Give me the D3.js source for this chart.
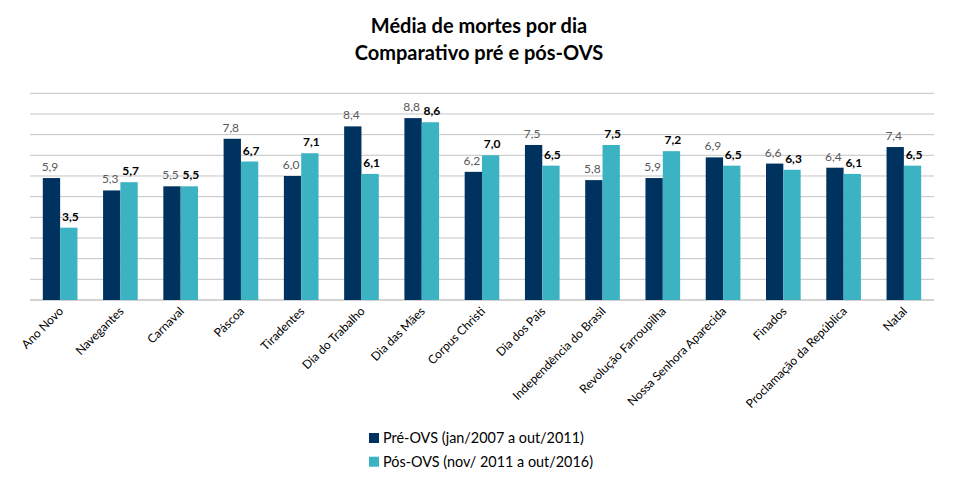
<!DOCTYPE html>
<html><head><meta charset="utf-8">
<script src="https://cdn.jsdelivr.net/npm/d3@7"></script>
<style>body{margin:0;background:#fff}svg{display:block}text{font-family:Lato,"Noto Sans",sans-serif}</style>
</head><body>
<svg id="c" width="959" height="481"></svg>
<script>
const categories = ["Ano Novo","Navegantes","Carnaval","Páscoa","Tiradentes","Dia do Trabalho","Dia das Mães","Corpus Christi","Dia dos Pais","Independência do Brasil","Revolução Farroupilha","Nossa Senhora Aparecida","Finados","Proclamação da República","Natal"];
const preOVS  = [5.9,5.3,5.5,7.8,6.0,8.4,8.8,6.2,7.5,5.8,5.9,6.9,6.6,6.4,7.4];
const posOVS  = [3.5,5.7,5.5,6.7,7.1,6.1,8.6,7.0,6.5,7.5,7.2,6.5,6.3,6.1,6.5];
const seriesNames = ["Pré-OVS (jan/2007 a out/2011)","Pós-OVS (nov/ 2011 a out/2016)"];
const yTicks = [0,1,2,3,4,5,6,7,8,9,10];
const colors = ["#00325F","#3BB3C3"];

const svg = d3.select("#c");
const pLeft=30, pRight=934, pTop=93.3, pBottom=300;
const x = d3.scaleBand().domain(categories).range([pLeft,pRight]);
const y = d3.scaleLinear().domain([0,10]).range([pBottom,pTop]);
const bw = x.bandwidth()*0.2875;

svg.append("g").selectAll("line").data(yTicks).join("line")
  .attr("x1",pLeft).attr("x2",pRight).attr("y1",d=>y(d)).attr("y2",d=>y(d))
  .attr("stroke","#C4C4C4").attr("stroke-width",d=>d===0?1.5:1);

const series=[preOVS,posOVS];
series.forEach((vals,si)=>{
  const g=svg.append("g");
  g.selectAll("rect").data(vals).join("rect")
    .attr("x",(d,i)=>x(categories[i])+x.bandwidth()/2-bw+si*bw)
    .attr("width",bw)
    .attr("y",d=>y(d)).attr("height",d=>y(0)-y(d))
    .attr("fill",colors[si]);
  g.selectAll("text").data(vals).join("text")
    .attr("x",(d,i)=>x(categories[i])+x.bandwidth()/2-bw/2+si*bw+(si?1.5:-1.5))
    .attr("y",d=>y(d)-7)
    .attr("text-anchor","middle")
    .attr("font-size",12)
    .attr("font-weight",si?"bold":"normal")
    .attr("fill",si?"#000":"#595959")
    .text(d=>d.toFixed(1).replace(".",","));
});

const xa=svg.append("g").attr("transform",`translate(0,${pBottom})`)
  .call(d3.axisBottom(x).tickSize(0).tickPadding(0));
xa.select(".domain").remove();
xa.selectAll("text").attr("font-size",12).attr("fill","#000")
  .attr("font-family","Lato,'Noto Sans',sans-serif")
  .attr("text-anchor","end").attr("dy",null)
  .attr("transform","translate(4,12) rotate(-45)");

svg.append("text").attr("x",479).attr("y",33).attr("text-anchor","middle")
  .attr("font-size",20).attr("font-weight","bold").text("Média de mortes por dia");
svg.append("text").attr("x",479).attr("y",60).attr("text-anchor","middle")
  .attr("font-size",20).attr("font-weight","bold").text("Comparativo pré e pós-OVS");

const lg=svg.append("g");
seriesNames.forEach((n,i)=>{
  const cy=438+i*23.7;
  lg.append("rect").attr("x",369).attr("y",cy-5).attr("width",10).attr("height",10).attr("fill",colors[i]);
  lg.append("text").attr("x",383).attr("y",cy+5).attr("font-size",14.4).attr("fill","#000").text(n);
});
</script>
</body></html>
